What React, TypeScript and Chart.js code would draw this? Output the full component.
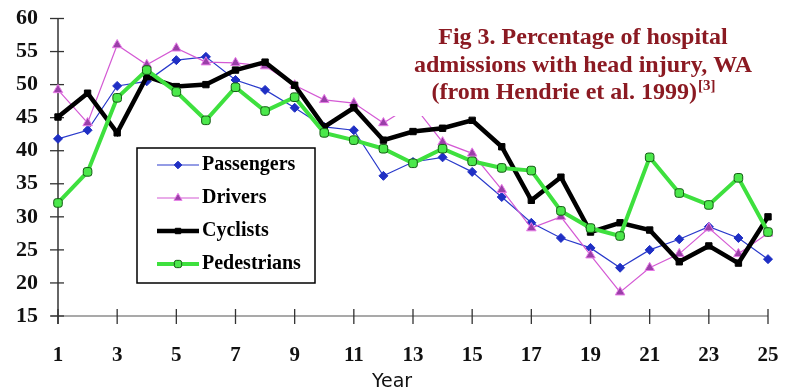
import React, { useEffect, useRef } from 'react';
import { Chart, registerables } from 'chart.js';
import { drawPoint } from 'chart.js/helpers';

Chart.register(...registerables);

const YEARS = [1, 2, 3, 4, 5, 6, 7, 8, 9, 10, 11, 12, 13, 14, 15, 16, 17, 18, 19, 20, 21, 22, 23, 24, 25];
const PASSENGERS = [41.8, 43.1, 49.8, 50.5, 53.7, 54.2, 50.7, 49.2, 46.5, 43.6, 43.1, 36.2, 38.3, 39.0, 36.8, 33.0, 29.1, 26.8, 25.3, 22.3, 25.0, 26.6, 28.5, 26.8, 23.6];
const DRIVERS = [49.2, 44.2, 56.0, 53.0, 55.5, 53.4, 53.3, 52.8, 49.9, 47.7, 47.2, 44.2, 47.0, 41.3, 39.6, 34.1, 28.3, 30.0, 24.2, 18.6, 22.3, 24.4, 28.3, 24.4, 27.5];
const CYCLISTS = [45.1, 48.7, 42.7, 51.2, 49.7, 50.0, 52.2, 53.4, 49.9, 43.6, 46.5, 41.6, 42.9, 43.4, 44.6, 40.6, 32.5, 36.0, 27.7, 29.1, 28.0, 23.2, 25.6, 23.0, 30.0];
const PEDESTRIANS = [32.1, 36.8, 48.0, 52.2, 48.9, 44.6, 49.6, 46.0, 48.1, 42.7, 41.6, 40.3, 38.1, 40.3, 38.4, 37.4, 37.0, 30.9, 28.3, 27.1, 39.0, 33.6, 31.8, 35.9, 27.7];
const SERIES_NAMES = ['Passengers', 'Drivers', 'Cyclists', 'Pedestrians'];
const TITLE_LINES = ['Fig 3. Percentage of hospital', 'admissions with head injury, WA', '(from Hendrie et al. 1999)'];
const TITLE_SUP = '[3]';
const X_TITLE = 'Year';
const Y_MIN = 15;
const Y_MAX = 60;
const Y_STEP = 5;

const SERIF = '"Liberation Serif", "Times New Roman", serif';

const decorPlugin = {
  id: 'decor',
  beforeDatasetsDraw(chart: any) {
    const { ctx, chartArea } = chart;
    const x = chart.scales.x;
    const y = chart.scales.y;
    const left = chartArea.left;
    const bottom = chartArea.bottom;
    ctx.save();
    ctx.strokeStyle = '#8c8c8c';
    ctx.lineWidth = 1.5;
    ctx.beginPath();
    ctx.moveTo(left - 7, bottom);
    ctx.lineTo(chartArea.right, bottom);
    ctx.stroke();
    ctx.strokeStyle = '#333';
    ctx.lineWidth = 1.3;
    for (let i = 0; i < YEARS.length; i += 2) {
      const px = x.getPixelForValue(i);
      ctx.beginPath();
      ctx.moveTo(px, bottom - 7);
      ctx.lineTo(px, bottom + 8);
      ctx.stroke();
    }
    ctx.strokeStyle = '#333';
    ctx.lineWidth = 1.5;
    ctx.beginPath();
    ctx.moveTo(left, chartArea.top);
    ctx.lineTo(left, bottom + 8);
    ctx.stroke();
    ctx.lineWidth = 1.3;
    y.ticks.forEach((t: any) => {
      const py = y.getPixelForValue(t.value);
      ctx.beginPath();
      ctx.moveTo(left - 8, py);
      ctx.lineTo(left + 6, py);
      ctx.stroke();
    });
    ctx.restore();
  },
  afterDraw(chart: any) {
    const { ctx } = chart;
    ctx.save();
    ctx.fillStyle = '#ffffff';
    ctx.fillRect(393, 4, 385, 112);
    ctx.fillStyle = '#8b1a22';
    ctx.textAlign = 'center';
    ctx.textBaseline = 'middle';
    ctx.font = `bold 24px ${SERIF}`;
    const cx = 583;
    ctx.fillText(TITLE_LINES[0], cx, 38);
    ctx.fillText(TITLE_LINES[1], cx, 65.5);
    const w3 = ctx.measureText(TITLE_LINES[2]).width;
    ctx.font = `bold 15px ${SERIF}`;
    const wsup = ctx.measureText(TITLE_SUP).width;
    const start = cx - 10 - (w3 + wsup) / 2;
    ctx.textAlign = 'left';
    ctx.font = `bold 24px ${SERIF}`;
    ctx.fillText(TITLE_LINES[2], start, 93);
    ctx.font = `bold 15px ${SERIF}`;
    ctx.fillText(TITLE_SUP, start + w3 + 1, 86);

    const lx = 137, ly = 148, lw = 178, lh = 135;
    ctx.fillStyle = '#ffffff';
    ctx.fillRect(lx, ly, lw, lh);
    ctx.strokeStyle = '#000';
    ctx.lineWidth = 1.5;
    ctx.strokeRect(lx, ly, lw, lh);
    chart.data.datasets.forEach((ds: any, i: number) => {
      const ry = 165 + i * 33;
      ctx.strokeStyle = ds.borderColor;
      ctx.lineWidth = ds.borderWidth;
      ctx.beginPath();
      ctx.moveTo(157, ry);
      ctx.lineTo(199, ry);
      ctx.stroke();
      ctx.fillStyle = ds.pointBackgroundColor;
      ctx.strokeStyle = ds.pointBorderColor;
      ctx.lineWidth = ds.pointBorderWidth;
      drawPoint(ctx, { pointStyle: ds.pointStyle, rotation: 0, radius: ds.pointRadius * 0.85, borderWidth: ds.pointBorderWidth }, 178, ry);
      ctx.fillStyle = '#000';
      ctx.textAlign = 'left';
      ctx.textBaseline = 'middle';
      ctx.font = `bold 20px ${SERIF}`;
      ctx.fillText(ds.label, 202, ry);
    });

    ctx.fillStyle = '#111';
    ctx.textAlign = 'center';
    ctx.textBaseline = 'middle';
    ctx.font = '19px "DejaVu Sans", sans-serif';
    ctx.fillText(X_TITLE, 392, 382);
    ctx.restore();
  },
};

export default function App() {
  const ref = useRef<HTMLCanvasElement | null>(null);
  useEffect(() => {
    document.body.style.margin = '0';
    if (!ref.current) return;
    const chart = new Chart(ref.current, {
      type: 'line',
      data: {
        labels: YEARS,
        datasets: [
          {
            label: SERIES_NAMES[0],
            data: PASSENGERS,
            borderColor: '#2a3acb',
            borderWidth: 1.2,
            pointStyle: 'rectRot',
            pointRadius: 4.5,
            pointBackgroundColor: '#1f2fc4',
            pointBorderColor: '#1f2fc4',
            pointBorderWidth: 1,
            tension: 0,
            order: 4,
          },
          {
            label: SERIES_NAMES[1],
            data: DRIVERS,
            borderColor: '#d45ad4',
            borderWidth: 1.2,
            pointStyle: 'triangle',
            pointRadius: 5.5,
            pointBackgroundColor: '#9a3fa8',
            pointBorderColor: '#e67ae6',
            pointBorderWidth: 1,
            tension: 0,
            order: 3,
          },
          {
            label: SERIES_NAMES[2],
            data: CYCLISTS,
            borderColor: '#000000',
            borderWidth: 4.5,
            pointStyle: 'rect',
            pointRadius: 4.5,
            pointBackgroundColor: '#000000',
            pointBorderColor: '#000000',
            pointBorderWidth: 1,
            tension: 0,
            order: 2,
          },
          {
            label: SERIES_NAMES[3],
            data: PEDESTRIANS,
            borderColor: '#3ee03e',
            borderWidth: 4,
            pointStyle: 'rectRounded',
            pointRadius: 5,
            pointBackgroundColor: '#4be84b',
            pointBorderColor: '#145a14',
            pointBorderWidth: 1,
            tension: 0,
            order: 1,
          },
        ],
      },
      options: {
        animation: false,
        responsive: false,
        layout: { padding: 0 },
        plugins: { legend: { display: false }, tooltip: { enabled: false }, title: { display: false } },
        scales: {
          x: {
            type: 'category',
            offset: false,
            grid: { display: false, drawTicks: false },
            border: { display: false },
            ticks: {
              autoSkip: false,
              maxRotation: 0,
              padding: 27,
              color: '#111',
              font: { family: SERIF, size: 21, weight: 'bold' },
              callback: (_v: any, idx: number) => (idx % 2 === 0 ? String(YEARS[idx]) : ''),
            },
            afterFit: (s: any) => {
              s.height = 74;
              s.paddingLeft = 0;
              s.paddingRight = 21;
            },
          },
          y: {
            min: Y_MIN,
            max: Y_MAX,
            grid: { display: false, drawTicks: false },
            border: { display: false },
            ticks: {
              stepSize: Y_STEP,
              padding: 20,
              color: '#111',
              font: { family: SERIF, size: 22, weight: 'bold' },
            },
            afterFit: (s: any) => {
              s.width = 58;
              s.paddingTop = 18.5;
              s.paddingBottom = 0;
            },
          },
        },
      },
      plugins: [decorPlugin],
    });
    return () => chart.destroy();
  }, []);
  return (
    <div style={{ width: 789, height: 390 }}>
      <canvas ref={ref} width={789} height={390} />
    </div>
  );
}
